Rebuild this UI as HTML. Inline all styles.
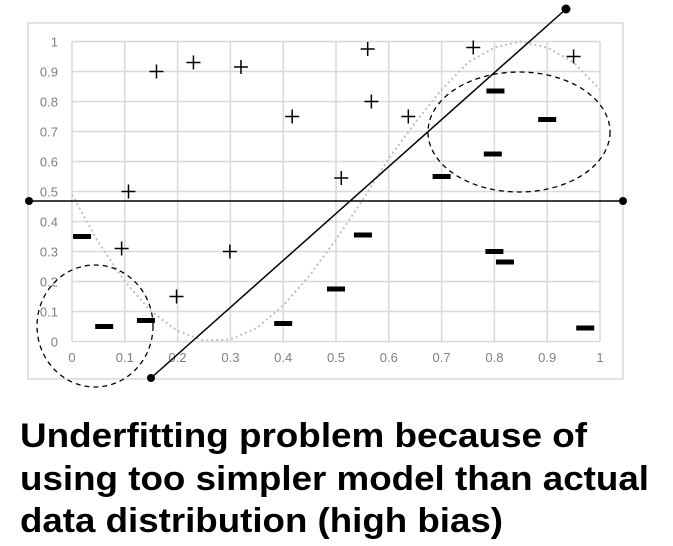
<!DOCTYPE html>
<html><head><meta charset="utf-8"><style>
html,body{margin:0;padding:0;background:#fff;width:673px;height:546px;overflow:hidden}
svg{display:block}
</style></head><body>
<svg id="chart" width="673" height="546" viewBox="0 0 673 546" xmlns="http://www.w3.org/2000/svg">
<rect x="28" y="23" width="595" height="356" fill="#fff" stroke="#d9d9d9" stroke-width="1.5"/>
<g id="grid"></g>
<g id="axes" font-family="Liberation Sans, sans-serif" font-size="13" fill="#7f7f7f"></g>
<polyline id="curve" fill="none" stroke="#bfbfbf" stroke-width="2" stroke-dasharray="2,3"/>
<g id="marks"></g>
<ellipse cx="519" cy="132" rx="91" ry="60" fill="none" stroke="#000" stroke-width="1.3" stroke-dasharray="5,4"/>
<ellipse cx="95" cy="326" rx="58" ry="61" fill="none" stroke="#000" stroke-width="1.3" stroke-dasharray="5,4"/>
<line x1="29" y1="201" x2="623" y2="201" stroke="#000" stroke-width="1.5"/>
<circle cx="29" cy="201" r="4"/>
<circle cx="623" cy="201" r="4"/>
<line x1="151" y1="378" x2="566" y2="9" stroke="#000" stroke-width="1.5"/>
<circle cx="151" cy="378" r="4"/>
<circle cx="566" cy="9" r="4.5"/>
<g font-family="Liberation Sans, sans-serif" font-weight="bold" font-size="34" fill="#000">
<text x="20" y="447" textLength="567" lengthAdjust="spacingAndGlyphs">Underfitting problem because of</text>
<text x="20" y="490" textLength="629" lengthAdjust="spacingAndGlyphs">using too simpler model than actual</text>
<text x="20" y="532" textLength="483" lengthAdjust="spacingAndGlyphs">data distribution (high bias)</text>
</g>
</svg>
<script>
const xTicks=[0,0.1,0.2,0.3,0.4,0.5,0.6,0.7,0.8,0.9,1];
const yTicks=[0,0.1,0.2,0.3,0.4,0.5,0.6,0.7,0.8,0.9,1];
const plusX=[0.107,0.094,0.16,0.23,0.32,0.198,0.299,0.417,0.51,0.56,0.567,0.637,0.76,0.95];
const plusY=[0.5,0.31,0.9,0.93,0.915,0.15,0.3,0.75,0.545,0.975,0.8,0.75,0.98,0.95];
const minusX=[0.019,0.061,0.14,0.4,0.5,0.551,0.7,0.797,0.802,0.9,0.8,0.82,0.972];
const minusY=[0.35,0.05,0.07,0.06,0.175,0.355,0.55,0.625,0.835,0.74,0.3,0.265,0.045];
const curveX=[0,0.05,0.1,0.15,0.2,0.25,0.3,0.35,0.4,0.45,0.5,0.55,0.6,0.65,0.7,0.75,0.8,0.85,0.9,0.95,1];
const curveY=[0.49,0.33,0.2,0.1,0.035,0.003,0.007,0.045,0.12,0.22,0.34,0.47,0.61,0.73,0.84,0.93,0.98,1,0.98,0.93,0.84];
const NS='http://www.w3.org/2000/svg';
const sx=v=>72+v*528, sy=v=>341.5-v*300;
function mk(t,a,p){const e=document.createElementNS(NS,t);for(const k in a)e.setAttribute(k,a[k]);p.appendChild(e);return e;}
const grid=document.getElementById('grid'),axes=document.getElementById('axes'),marks=document.getElementById('marks');
xTicks.forEach(v=>{
 const l=mk('line',{x1:sx(v),x2:sx(v),y1:sy(1),y2:sy(0),stroke:'#d9d9d9','stroke-width':1.5},grid);
 
 
 const t=mk('text',{x:sx(v),y:362,'text-anchor':'middle'},axes);t.textContent=String(v);
 
 
});
yTicks.forEach(v=>{
 const l=mk('line',{x1:sx(0),x2:sx(1),y1:sy(v),y2:sy(v),stroke:'#d9d9d9','stroke-width':1.5},grid);
 
 
 const t=mk('text',{x:58,y:sy(v)+5,'text-anchor':'end'},axes);t.textContent=String(v);
 
 
});
document.getElementById('curve').setAttribute('points',curveX.map((x,i)=>sx(x)+','+sy(curveY[i])).join(' '));
plusX.forEach((x,i)=>{
 const cx=sx(x),cy=sy(plusY[i]);
 const p=mk('path',{d:`M${cx-7},${cy}H${cx+7}M${cx},${cy-7}V${cy+7}`,stroke:'#000','stroke-width':1.5,fill:'none'},marks);
 
 
});
minusX.forEach((x,i)=>{
 const r=mk('rect',{x:sx(x)-9,y:sy(minusY[i])-2.5,width:18,height:5,fill:'#000'},marks);
 
 
});
</script>
</body></html>
